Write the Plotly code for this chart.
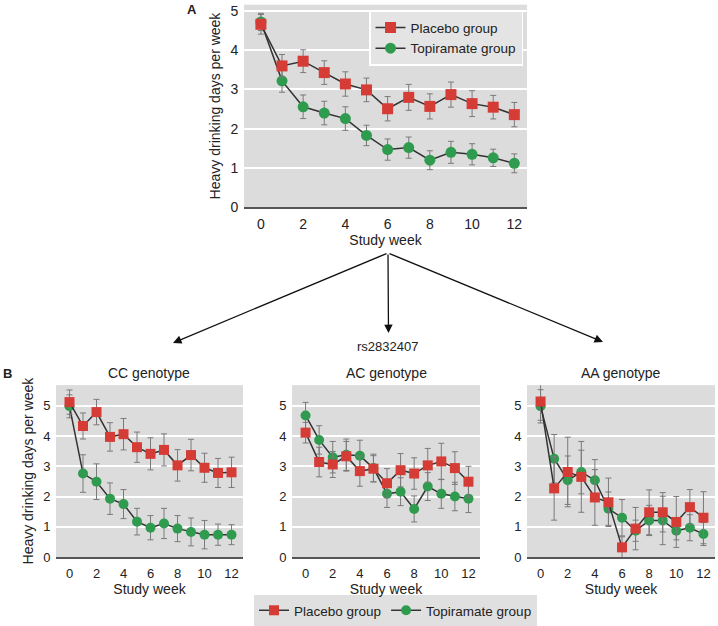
import plotly.graph_objects as go

weeks = list(range(13))

# Panel A (all participants)
a_placebo = [4.66, 3.60, 3.72, 3.43, 3.14, 2.99, 2.51, 2.80, 2.57, 2.87, 2.64, 2.55, 2.36]
a_placebo_err = [0.25, 0.29, 0.29, 0.30, 0.31, 0.30, 0.31, 0.33, 0.32, 0.32, 0.33, 0.30, 0.31]
a_topir = [4.72, 3.22, 2.56, 2.40, 2.26, 1.83, 1.47, 1.52, 1.20, 1.40, 1.35, 1.26, 1.12]
a_topir_err = [0.22, 0.29, 0.30, 0.30, 0.30, 0.26, 0.27, 0.27, 0.24, 0.28, 0.27, 0.22, 0.24]

# Panel B, CC genotype
cc_placebo = [5.12, 4.33, 4.79, 3.97, 4.06, 3.63, 3.41, 3.54, 3.03, 3.37, 2.95, 2.78, 2.80]
cc_placebo_err = [0.40, 0.43, 0.42, 0.47, 0.52, 0.50, 0.53, 0.53, 0.52, 0.52, 0.48, 0.48, 0.50]
cc_topir = [4.98, 2.76, 2.49, 1.93, 1.75, 1.17, 0.97, 1.11, 0.94, 0.83, 0.74, 0.74, 0.74]
cc_topir_err = [0.38, 0.62, 0.59, 0.52, 0.48, 0.44, 0.40, 0.50, 0.43, 0.46, 0.47, 0.35, 0.33]

# Panel B, AC genotype
ac_placebo = [4.11, 3.14, 3.06, 3.33, 2.84, 2.92, 2.44, 2.87, 2.76, 3.03, 3.16, 2.94, 2.49]
ac_placebo_err = [0.34, 0.49, 0.43, 0.49, 0.50, 0.43, 0.48, 0.55, 0.52, 0.56, 0.60, 0.54, 0.51]
ac_topir = [4.68, 3.87, 3.30, 3.38, 3.35, 2.94, 2.09, 2.16, 1.59, 2.33, 2.09, 2.00, 1.93]
ac_topir_err = [0.43, 0.47, 0.52, 0.52, 0.51, 0.46, 0.45, 0.46, 0.43, 0.46, 0.48, 0.47, 0.46]

# Panel B, AA genotype
aa_placebo = [5.14, 2.27, 2.81, 2.65, 1.97, 1.81, 0.32, 0.94, 1.48, 1.48, 1.16, 1.65, 1.30]
aa_placebo_err = [0.62, 1.05, 1.15, 1.17, 0.92, 0.80, 0.35, 0.70, 0.74, 0.65, 0.84, 0.58, 0.86]
aa_topir = [4.98, 3.25, 2.54, 2.81, 2.54, 1.60, 1.30, 0.87, 1.21, 1.21, 0.87, 0.97, 0.76]
aa_topir_err = [0.55, 0.80, 0.80, 0.72, 0.68, 0.55, 0.60, 0.35, 0.50, 0.80, 0.30, 0.43, 0.38]

y_ticks = [0, 1, 2, 3, 4, 5]
x_ticks = [0, 2, 4, 6, 8, 10, 12]
group_names = ["Placebo group", "Topiramate group"]

RED = "#d63c36"
GREEN = "#2e9b4e"
LINE = "#333333"
ERR = "#7a7a7a"
FONT = "Liberation Sans, Arial, sans-serif"

W, H = 718, 626

def px(x):
    return x / W

def py(y):
    return 1 - y / H

fig = go.Figure()

panels = [
    ("x", "y", a_placebo, a_placebo_err, a_topir, a_topir_err, "legend", True),
    ("x2", "y2", cc_placebo, cc_placebo_err, cc_topir, cc_topir_err, "legend2", True),
    ("x3", "y3", ac_placebo, ac_placebo_err, ac_topir, ac_topir_err, "legend2", False),
    ("x4", "y4", aa_placebo, aa_placebo_err, aa_topir, aa_topir_err, "legend2", False),
]

for xa, ya, pv, pe, tv, te, leg, show in panels:
    big = xa == "x"
    msize = 11 if big else 10
    fig.add_trace(go.Scatter(
        x=weeks, y=tv, name=group_names[1], xaxis=xa, yaxis=ya,
        mode="lines+markers", legend=leg, showlegend=show, legendrank=2,
        cliponaxis=False,
        line=dict(color=LINE, width=1.5),
        marker=dict(symbol="circle", size=msize, color=GREEN),
        error_y=dict(type="data", array=te, color=ERR, thickness=1, width=3),
    ))
    fig.add_trace(go.Scatter(
        x=weeks, y=pv, name=group_names[0], xaxis=xa, yaxis=ya,
        mode="lines+markers", legend=leg, showlegend=show, legendrank=1,
        cliponaxis=False,
        line=dict(color=LINE, width=1.5),
        marker=dict(symbol="square", size=msize, color=RED),
        error_y=dict(type="data", array=pe, color=ERR, thickness=1, width=3),
    ))

def xaxis(domain, rng, anchor, fs):
    return dict(domain=domain, range=rng, anchor=anchor, tickvals=x_ticks,
                showgrid=False, zeroline=False, showline=True, linecolor="#555555",
                linewidth=2, ticks="outside", ticklen=3, tickcolor="rgba(0,0,0,0)",
                tickfont=dict(size=fs, color="#222"),
                title=dict(text="Study week", font=dict(size=14, color="#222"), standoff=2))

def yaxis(domain, rng, anchor, title, fs):
    d = dict(domain=domain, range=rng, anchor=anchor, tickvals=y_ticks,
             showgrid=True, gridcolor="white", gridwidth=1.5, zeroline=False,
             showline=False, ticks="outside", ticklen=2, tickcolor="rgba(0,0,0,0)",
             tickfont=dict(size=fs, color="#222"))
    if title:
        d["title"] = dict(text="Heavy drinking days per week", font=dict(size=14, color="#222"), standoff=6)
    return d

bot = [py(565), py(390)]
fig.update_layout(
    width=W, height=H,
    margin=dict(l=0, r=0, t=0, b=0),
    paper_bgcolor="white", plot_bgcolor="#dcdcdc",
    font=dict(family=FONT, color="#222"),
    xaxis=xaxis([px(244), px(527)], [-0.8, 12.6], "y", 14),
    yaxis=yaxis([py(209), py(2.7)], [0, 5.16], "x", True, 14),
    xaxis2=xaxis([px(56), px(243)], [-1.0, 12.85], "y2", 13),
    yaxis2=yaxis(bot, [0, 5.68], "x2", True, 13),
    xaxis3=xaxis([px(292), px(480)], [-1.0, 12.85], "y3", 13),
    yaxis3=yaxis(bot, [0, 5.68], "x3", False, 13),
    xaxis4=xaxis([px(527), px(715)], [-1.0, 12.85], "y4", 13),
    yaxis4=yaxis(bot, [0, 5.68], "x4", False, 13),
    legend=dict(x=px(369), y=py(9), xanchor="left", yanchor="top",
                bgcolor="#e4e4e4", bordercolor="white", borderwidth=1.5,
                font=dict(size=13.5, color="#222"), tracegroupgap=0,
                itemwidth=30, traceorder="normal"),
    legend2=dict(x=px(254), y=py(604), xanchor="left", yanchor="top",
                 orientation="h", bgcolor="#e0e0e0", borderwidth=0,
                 itemwidth=30,
                 font=dict(size=13.5, color="#222"), traceorder="normal"),
)

annots = [
    dict(text="<b>A</b>", x=px(192), y=py(8), font=dict(size=13)),
    dict(text="<b>B</b>", x=px(7), y=py(378), font=dict(size=13)),
    dict(text="rs2832407", x=px(388), y=py(351), font=dict(size=13)),
    dict(text="CC genotype", x=px(149), y=py(378), font=dict(size=14)),
    dict(text="AC genotype", x=px(386), y=py(378), font=dict(size=14)),
    dict(text="AA genotype", x=px(621), y=py(378), font=dict(size=14)),
]
for a in annots:
    fig.add_annotation(xref="paper", yref="paper", showarrow=False,
                       xanchor="center", yanchor="middle", **a)

apex = (388, 257)
for tip in [(173, 347), (388.5, 337), (603, 346)]:
    fig.add_annotation(xref="paper", yref="paper", x=px(tip[0]), y=py(tip[1]),
                       axref="pixel", ayref="pixel",
                       ax=apex[0] - tip[0], ay=apex[1] - tip[1],
                       text="", showarrow=True, arrowhead=2, arrowsize=1.3,
                       arrowwidth=1.3, arrowcolor="#111")

fig.write_html("out.html", config={"displayModeBar": False},
               post_script="document.body.style.margin='0';document.body.style.overflow='hidden';")
